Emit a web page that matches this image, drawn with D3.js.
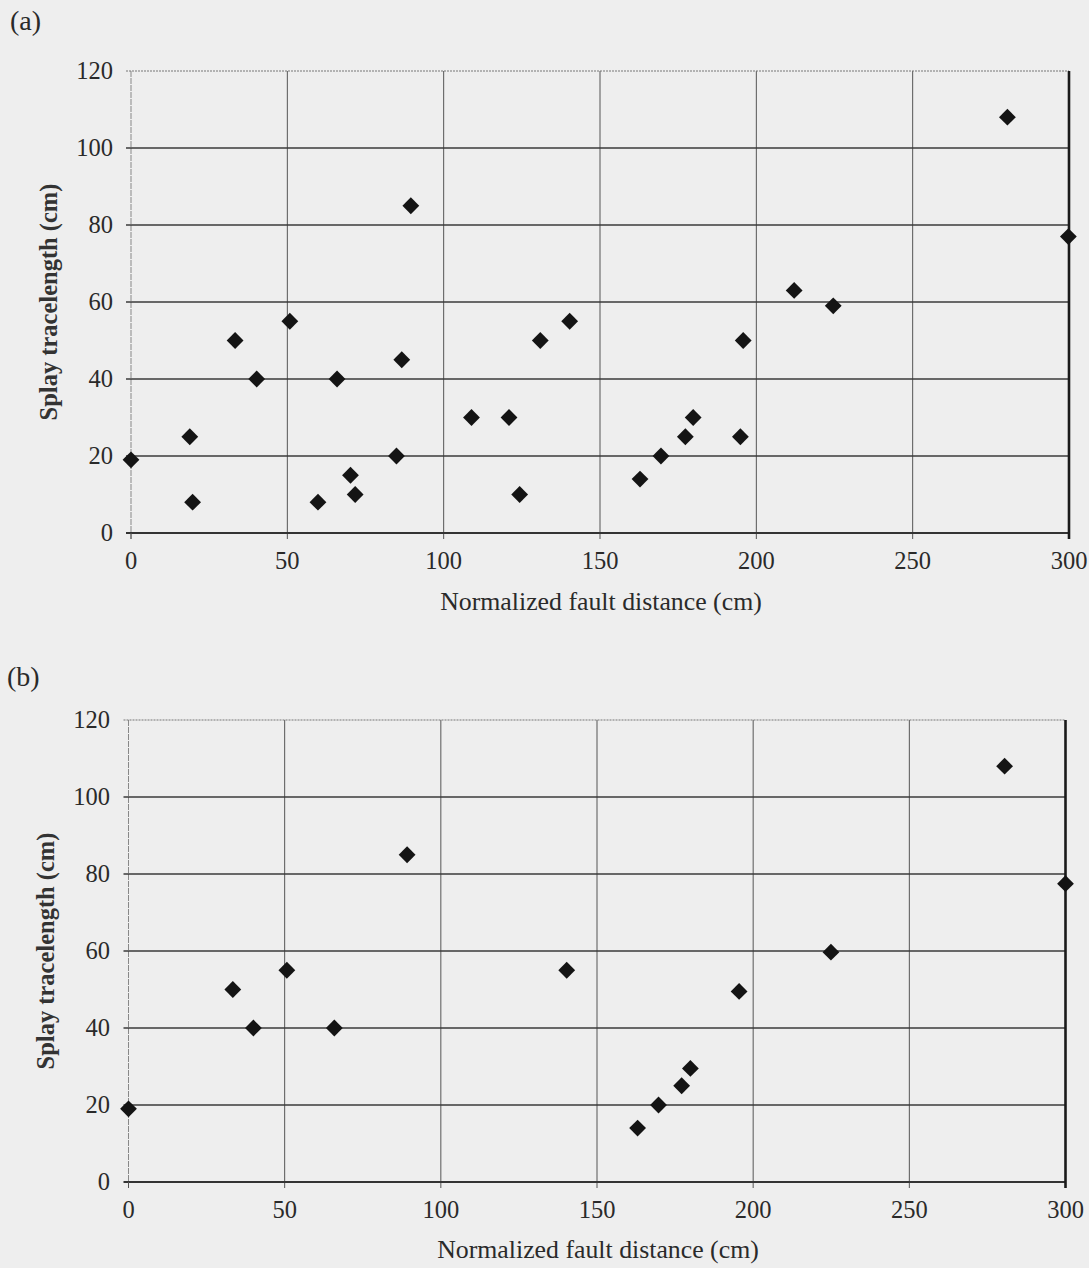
<!DOCTYPE html>
<html>
<head>
<meta charset="utf-8">
<script src="https://cdn.jsdelivr.net/npm/d3@7"></script>
<style>
  html, body { margin: 0; padding: 0; background: #eeeeee; }
  svg { display: block; }
  text { font-family: "Liberation Serif", "Times New Roman", serif; fill: #2a2a2a; }
</style>
</head>
<body>
<svg id="chart" width="1089" height="1268"></svg>
<script>
// ---- Data ----
const xTicks = [0, 50, 100, 150, 200, 250, 300];
const yTicks = [0, 20, 40, 60, 80, 100, 120];
const xTitle = "Normalized fault distance (cm)";
const yTitle = "Splay tracelength (cm)";
const panelLabels = ["(a)", "(b)"];

// Panel (a): all splays
const aDistance = [0, 18.8, 19.7, 33.3, 40.2, 50.8, 59.8, 65.9, 70.2, 71.7, 84.9, 86.6, 89.5,
  108.9, 120.9, 124.3, 130.9, 140.3, 162.8, 169.5, 177.3, 179.8, 194.9, 195.8, 212.1, 224.6, 280.3, 299.8];
const aLength = [19, 25, 8, 50, 40, 55, 8, 40, 15, 10, 20, 45, 85,
  30, 30, 10, 50, 55, 14, 20, 25, 30, 25, 50, 63, 59, 108, 77];

// Panel (b): subset
const bDistance = [0, 33.4, 40, 50.7, 65.9, 89.2, 140.3, 163, 169.7, 177.1, 179.9, 195.5, 224.9, 280.5, 300];
const bLength = [19, 50, 40, 55, 40, 85, 55, 14, 20, 25, 29.5, 49.5, 59.7, 108, 77.5];

const svg = d3.select("#chart");

const panels = [
  { label: panelLabels[0], xs: aDistance, ys: aLength, x0: 131, x1: 1069, yTop: 71, yBot: 533,
    labelPos: [10, 30], yTickRight: 113, xTickBase: 569, xTitleBase: 610, yTitleX: 57 },
  { label: panelLabels[1], xs: bDistance, ys: bLength, x0: 128.5, x1: 1065.5, yTop: 720, yBot: 1182,
    labelPos: [7, 686], yTickRight: 110, xTickBase: 1218, xTitleBase: 1258, yTitleX: 54 }
];

panels.forEach(p => {
  const g = svg.append("g");
  const x = d3.scaleLinear().domain([0, 300]).range([p.x0, p.x1]);
  const y = d3.scaleLinear().domain([0, 120]).range([p.yBot, p.yTop]);

  // vertical gridlines
  g.selectAll(".vg").data(xTicks.filter(t => t > 0 && t < 300)).join("line")
    .attr("x1", d => x(d)).attr("x2", d => x(d))
    .attr("y1", p.yTop).attr("y2", p.yBot + 6)
    .attr("stroke", "#555").attr("stroke-width", 1);

  // left border (light)
  g.append("line").attr("x1", x(0)).attr("x2", x(0)).attr("y1", p.yTop).attr("y2", p.yBot + 6)
    .attr("stroke", "#888").attr("stroke-width", 1).attr("stroke-dasharray", "6,1");

  // horizontal gridlines
  g.selectAll(".hg").data(yTicks.filter(t => t > 0 && t < 120)).join("line")
    .attr("x1", x(0) - 5).attr("x2", x(300))
    .attr("y1", d => y(d)).attr("y2", d => y(d))
    .attr("stroke", "#3a3a3a").attr("stroke-width", 1.6);

  // top dotted line
  g.append("line").attr("x1", x(0) - 5).attr("x2", x(300)).attr("y1", y(120)).attr("y2", y(120))
    .attr("stroke", "#777").attr("stroke-width", 1.2).attr("stroke-dasharray", "2,1");

  // bottom axis line
  g.append("line").attr("x1", x(0) - 5).attr("x2", x(300)).attr("y1", y(0)).attr("y2", y(0))
    .attr("stroke", "#333").attr("stroke-width", 2);

  // x tick marks for 0 and 300
  g.selectAll(".xt").data([0, 300]).join("line")
    .attr("x1", d => x(d)).attr("x2", d => x(d)).attr("y1", y(0)).attr("y2", y(0) + 6)
    .attr("stroke", "#555").attr("stroke-width", 1);

  // right border (thick)
  g.append("line").attr("x1", x(300)).attr("x2", x(300)).attr("y1", y(120)).attr("y2", y(0) + 6)
    .attr("stroke", "#1a1a1a").attr("stroke-width", 2.6);

  // tick labels
  g.selectAll(".xl").data(xTicks).join("text")
    .attr("x", d => x(d)).attr("y", p.xTickBase)
    .attr("text-anchor", "middle").attr("font-size", 24.5)
    .text(d => d);

  g.selectAll(".yl").data(yTicks).join("text")
    .attr("x", p.yTickRight).attr("y", d => y(d) + 8)
    .attr("text-anchor", "end").attr("font-size", 24.5)
    .text(d => d);

  // titles
  g.append("text").attr("x", (p.x0 + p.x1) / 2 + 1).attr("y", p.xTitleBase)
    .attr("text-anchor", "middle").attr("font-size", 25.8).text(xTitle);

  g.append("text")
    .attr("transform", `translate(${p.yTitleX},${(p.yTop + p.yBot) / 2}) rotate(-90)`)
    .attr("text-anchor", "middle").attr("font-size", 24.5).attr("font-weight", "bold")
    .style("fill", "#333").text(yTitle);

  g.append("text").attr("x", p.labelPos[0]).attr("y", p.labelPos[1])
    .attr("font-size", 28).text(p.label);

  // markers
  const pts = p.xs.map((d, i) => ({ x: d, y: p.ys[i] }));
  const diamond = d3.symbol().type(d3.symbolDiamond2).size(180);
  g.selectAll(".pt").data(pts).join("path")
    .attr("d", diamond)
    .attr("transform", d => `translate(${x(d.x)},${y(d.y)})`)
    .attr("fill", "#141414");
});
</script>
</body>
</html>
